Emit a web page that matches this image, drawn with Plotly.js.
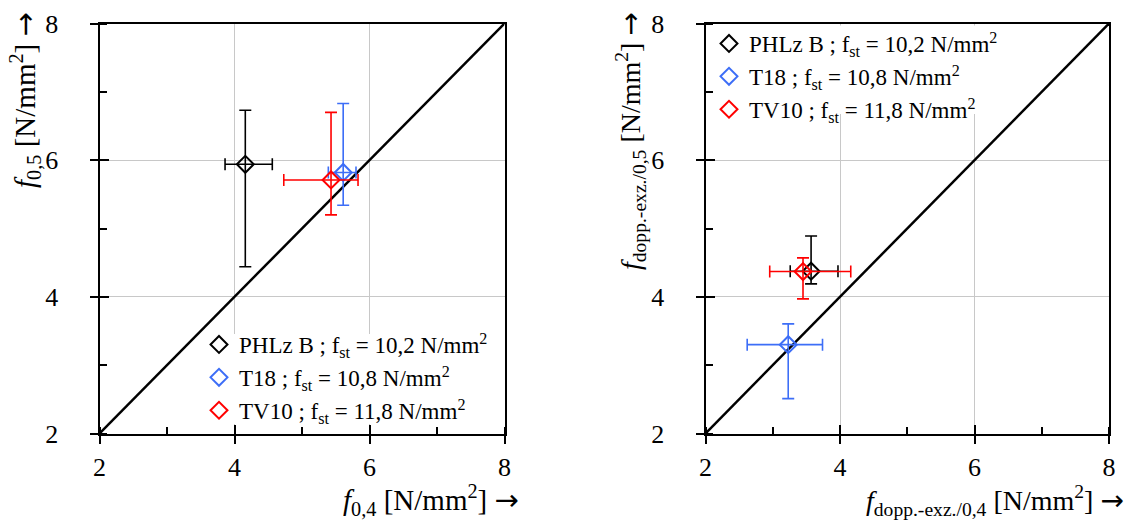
<!DOCTYPE html>
<html><head><meta charset="utf-8">
<script src="https://cdn.plot.ly/plotly-3.0.1.min.js"></script>
<style>html,body{margin:0;padding:0;background:#fff}#c{width:1131px;height:521px}</style>
</head><body><div id="c"></div>
<script>
// ----- data -----
const seriesNames = ["PHLz B ; f<sub>st</sub> = 10,2 N/mm<sup>2</sup>",
                     "T18 ; f<sub>st</sub> = 10,8 N/mm<sup>2</sup>",
                     "TV10 ; f<sub>st</sub> = 11,8 N/mm<sup>2</sup>"];
const seriesColors = ["#000000", "#3d6ef7", "#ff0000"];

// left chart: f0,4 vs f0,5
const leftX    = [4.16, 5.61, 5.43];
const leftXlo  = [3.86, 5.39, 4.73];
const leftXhi  = [4.56, 5.80, 5.83];
const leftY    = [5.94, 5.82, 5.71];
const leftYlo  = [4.44, 5.34, 5.20];
const leftYhi  = [6.73, 6.83, 6.70];

// right chart: f dopp.-exz./0,4 vs f dopp.-exz./0,5
const rightX   = [3.57, 3.23, 3.45];
const rightXlo = [3.26, 2.62, 2.955];
const rightXhi = [3.97, 3.74, 4.16];
const rightY   = [4.375, 3.30, 4.37];
const rightYlo = [4.19, 2.51, 3.97];
const rightYhi = [4.89, 3.605, 4.57];

// diagonal reference line
const diagX = [2, 8];
const diagY = [2, 8];

const axisRange = [2, 8];
const tickVals = [2, 4, 6, 8];

// ----- build -----
const FONT = "Times New Roman, Liberation Serif, serif";
const ARROW = '<span style="font-family:DejaVu Sans">→</span>';
const traces = [];
traces.push({type: "scatter", mode: "lines", x: diagX, y: diagY, xaxis: "x", yaxis: "y",
             line: {color: "#000", width: 2.5}, showlegend: false, hoverinfo: "skip"});
traces.push({type: "scatter", mode: "lines", x: diagX, y: diagY, xaxis: "x2", yaxis: "y2",
             line: {color: "#000", width: 2.5}, showlegend: false, hoverinfo: "skip"});
function addSet(X, Xlo, Xhi, Y, Ylo, Yhi, xa, ya, leg) {
  for (let i = 0; i < X.length; i++) {
    traces.push({
      type: "scatter", mode: "markers", x: [X[i]], y: [Y[i]],
      xaxis: xa, yaxis: ya, legend: leg, name: seriesNames[i],
      marker: {symbol: "diamond-open", size: 13, color: seriesColors[i],
               line: {color: seriesColors[i], width: 2}},
      error_x: {type: "data", symmetric: false, array: [Xhi[i] - X[i]], arrayminus: [X[i] - Xlo[i]],
                color: seriesColors[i], thickness: 1.6, width: 6},
      error_y: {type: "data", symmetric: false, array: [Yhi[i] - Y[i]], arrayminus: [Y[i] - Ylo[i]],
                color: seriesColors[i], thickness: 1.6, width: 6},
      cliponaxis: false
    });
  }
}
addSet(leftX, leftXlo, leftXhi, leftY, leftYlo, leftYhi, "x", "y", "legend");
addSet(rightX, rightXlo, rightXhi, rightY, rightYlo, rightYhi, "x2", "y2", "legend2");

const W = 1131, H = 521;
const L0 = 99.5, L1 = 504.5, R0 = 705.5, R1 = 1109, T = 23.5, B = 433.5;
const dxL = [L0 / W, L1 / W];
const dxR = [R0 / W, R1 / W];
const dy = [(H - B) / H, (H - T) / H];

function mainAxis(domain, anchor, isX) {
  return {
    domain: domain, anchor: anchor, range: axisRange, tickvals: tickVals,
    showline: true, linecolor: "#000", linewidth: 2, mirror: true,
    ticks: "outside", ticklen: 8, tickwidth: 2, tickcolor: "#000",
    showgrid: true, gridcolor: "#c8c8c8", gridwidth: 1, zeroline: false,
    ticklabelstandoff: isX ? 1 : 26,
    tickfont: {family: FONT, size: 26, color: "#000"},
    minor: {ticks: "inside", ticklen: 7, tickwidth: 2, tickcolor: "#000", dtick: 1, tick0: 0, showgrid: false},
    fixedrange: true
  };
}
function overAxis(over, anchor, domain) {
  return {
    overlaying: over, anchor: anchor, domain: domain, range: axisRange, tickvals: tickVals,
    ticks: "inside", ticklen: 9, tickwidth: 2, tickcolor: "#000",
    showticklabels: false, showgrid: false, showline: false, zeroline: false, fixedrange: true
  };
}

const legendBase = {
  bgcolor: "rgba(255,255,255,0)", borderwidth: 0,
  font: {family: FONT, size: 23, color: "#000"},
  xanchor: "left", yanchor: "top", itemwidth: 30, tracegroupgap: 0,
  traceorder: "normal"
};

// pixel -> data helpers for the legend backing boxes (hide gridlines behind legends)
const pxToX = (px, a0, a1) => axisRange[0] + (px - a0) / (a1 - a0) * (axisRange[1] - axisRange[0]);
const pxToY = (py) => axisRange[0] + (B - py) / (B - T) * (axisRange[1] - axisRange[0]);

const annFont = {family: FONT, size: 29, color: "#000"};
const annFontR = {family: FONT, size: 28, color: "#000"};
const layout = {
  width: W, height: H, margin: {l: 0, r: 0, t: 0, b: 0},
  font: {family: FONT, color: "#000"},
  paper_bgcolor: "#fff", plot_bgcolor: "#fff", showlegend: true,
  xaxis: mainAxis(dxL, "y", true),
  yaxis: mainAxis(dy, "x", false),
  xaxis2: mainAxis(dxR, "y2", true),
  yaxis2: mainAxis(dy, "x2", false),
  xaxis3: overAxis("x", "y", dxL),
  yaxis3: overAxis("y", "x", dy),
  xaxis4: overAxis("x2", "y2", dxR),
  yaxis4: overAxis("y2", "x2", dy),
  legend: Object.assign({}, legendBase, {x: 199 / W, y: (H - 323) / H}),
  legend2: Object.assign({}, legendBase, {x: 709 / W, y: (H - 22) / H}),
  shapes: [
    {type: "rect", layer: "between", xref: "x", yref: "y",
     x0: pxToX(206, L0, L1), x1: pxToX(L1 - 2, L0, L1), y0: pxToY(424), y1: pxToY(334),
     fillcolor: "#fff", line: {width: 0}},
    {type: "rect", layer: "between", xref: "x2", yref: "y2",
     x0: pxToX(R0 + 2, R0, R1), x1: pxToX(1008, R0, R1), y0: pxToY(114), y1: pxToY(T + 2),
     fillcolor: "#fff", line: {width: 0}}
  ],
  annotations: [
    {text: "<i>f</i><sub>0,4</sub> [N/mm<sup>2</sup>] " + ARROW, xref: "paper", yref: "paper",
     x: 521 / W, y: (H - 500) / H, xanchor: "right", yanchor: "middle", showarrow: false, font: annFont},
    {text: "<i>f</i><sub>dopp.-exz./0,4</sub> [N/mm<sup>2</sup>] " + ARROW, xref: "paper", yref: "paper",
     x: 1126 / W, y: (H - 500) / H, xanchor: "right", yanchor: "middle", showarrow: false, font: annFontR},
    {text: "<i>f</i><sub>0,5</sub> [N/mm<sup>2</sup>] " + ARROW, xref: "paper", yref: "paper", textangle: -90,
     x: 25 / W, y: (H - 10) / H, xanchor: "center", yanchor: "top", showarrow: false, font: annFont},
    {text: "<i>f</i><sub>dopp.-exz./0,5</sub> [N/mm<sup>2</sup>] " + ARROW, xref: "paper", yref: "paper", textangle: -90,
     x: 630 / W, y: (H - 10) / H, xanchor: "center", yanchor: "top", showarrow: false, font: annFontR}
  ]
};
traces.push({type: "scatter", x: [], y: [], xaxis: "x3", yaxis: "y3", showlegend: false});
traces.push({type: "scatter", x: [], y: [], xaxis: "x4", yaxis: "y4", showlegend: false});

Plotly.newPlot("c", traces, layout, {staticPlot: true});
</script></body></html>
